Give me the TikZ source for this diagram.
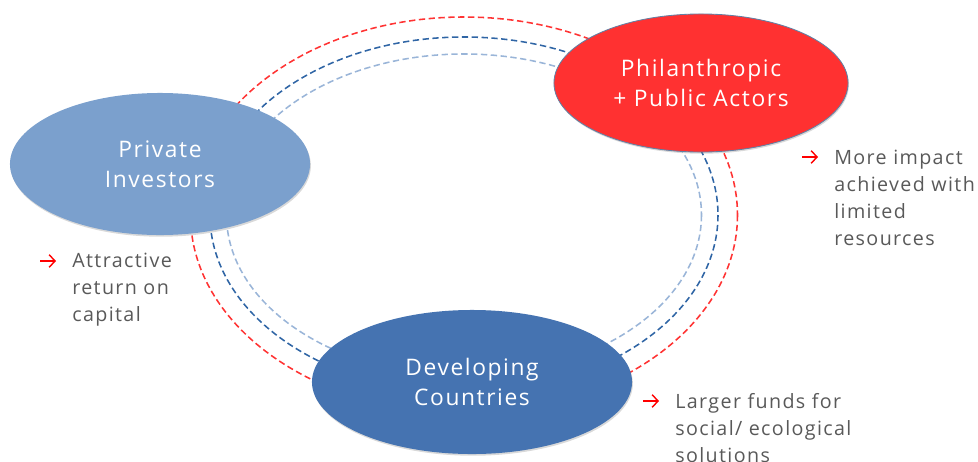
\documentclass[tikz,border=0pt]{standalone}
\usepackage{fontspec}
\setmainfont{Open Sans}[LetterSpace=7]
\usetikzlibrary{shapes.geometric,shadows,arrows.meta}
\definecolor{privblue}{HTML}{7BA0CD}
\definecolor{philred}{HTML}{FF3131}
\definecolor{devblue}{HTML}{4573B1}
\definecolor{ringred}{HTML}{FF3333}
\definecolor{ringblue}{HTML}{2F65A5}
\definecolor{ringlight}{HTML}{9AB5D8}
\definecolor{notegray}{HTML}{595959}

\begin{document}
\begin{tikzpicture}[x=0.025cm,y=-0.025cm]
        \tikzstyle{bubble}=[ellipse, inner sep=0mm, text=white, align=center, font=\fontsize{16.2}{21.5}\selectfont, drop shadow={shadow xshift=0.6pt, shadow yshift=-1.2pt, opacity=0.3}]
        \tikzstyle{ring}=[dash pattern=on 4.5pt off 2.5pt, line width=1.1pt]
        \tikzstyle{note}=[anchor=base west, inner sep=0mm, align=left, text=notegray, font=\fontsize{14}{19.2}\selectfont]
        \tikzstyle{pointer}=[red, line width=1pt, -{Straight Barb[length=4.2pt, width=9pt]}]
        \useasboundingbox (0,0) rectangle (978,461);
        \clip (0,0) rectangle (978,461);

        % the three rings behind the actors
        \coordinate (Hub) at (464,215);
        \draw[ring, ringred] (Hub) ellipse [x radius=273.5, y radius=198];
        \draw[ring, ringblue] (Hub) ellipse [x radius=254, y radius=178];
        \draw[ring, ringlight] (Hub) ellipse [x radius=237.5, y radius=161];

        \node[bubble, fill=privblue, minimum width=7.5cm, minimum height=3.55cm] (Private) at (160,164) {Private\\Investors};
        \node[bubble, fill=philred, draw=privblue!80!black, line width=0.6pt, minimum width=7.35cm, minimum height=3.45cm] (Philan) at (701,83) {Philanthropic\\+ Public Actors};
        \node[bubble, fill=devblue, minimum width=8cm, minimum height=3.6cm] (Develop) at (472,382) {Developing\\Countries};

        % benefits (placed at the baseline of their last line)
        \node[note] (PrivGain) at (72,321) {Attractive\\return on\\capital};
        \node[note] (PhilGain) at (834,245) {More impact\\achieved with\\limited\\resources};
        \node[note] (DevGain) at (675,462) {Larger funds for\\social/ ecological\\solutions};
        \draw[pointer] (40,261) -- (56,261);
        \draw[pointer] (802,157) -- (818,157);
        \draw[pointer] (643,401) -- (659,401);
      \end{tikzpicture}
\end{document}
